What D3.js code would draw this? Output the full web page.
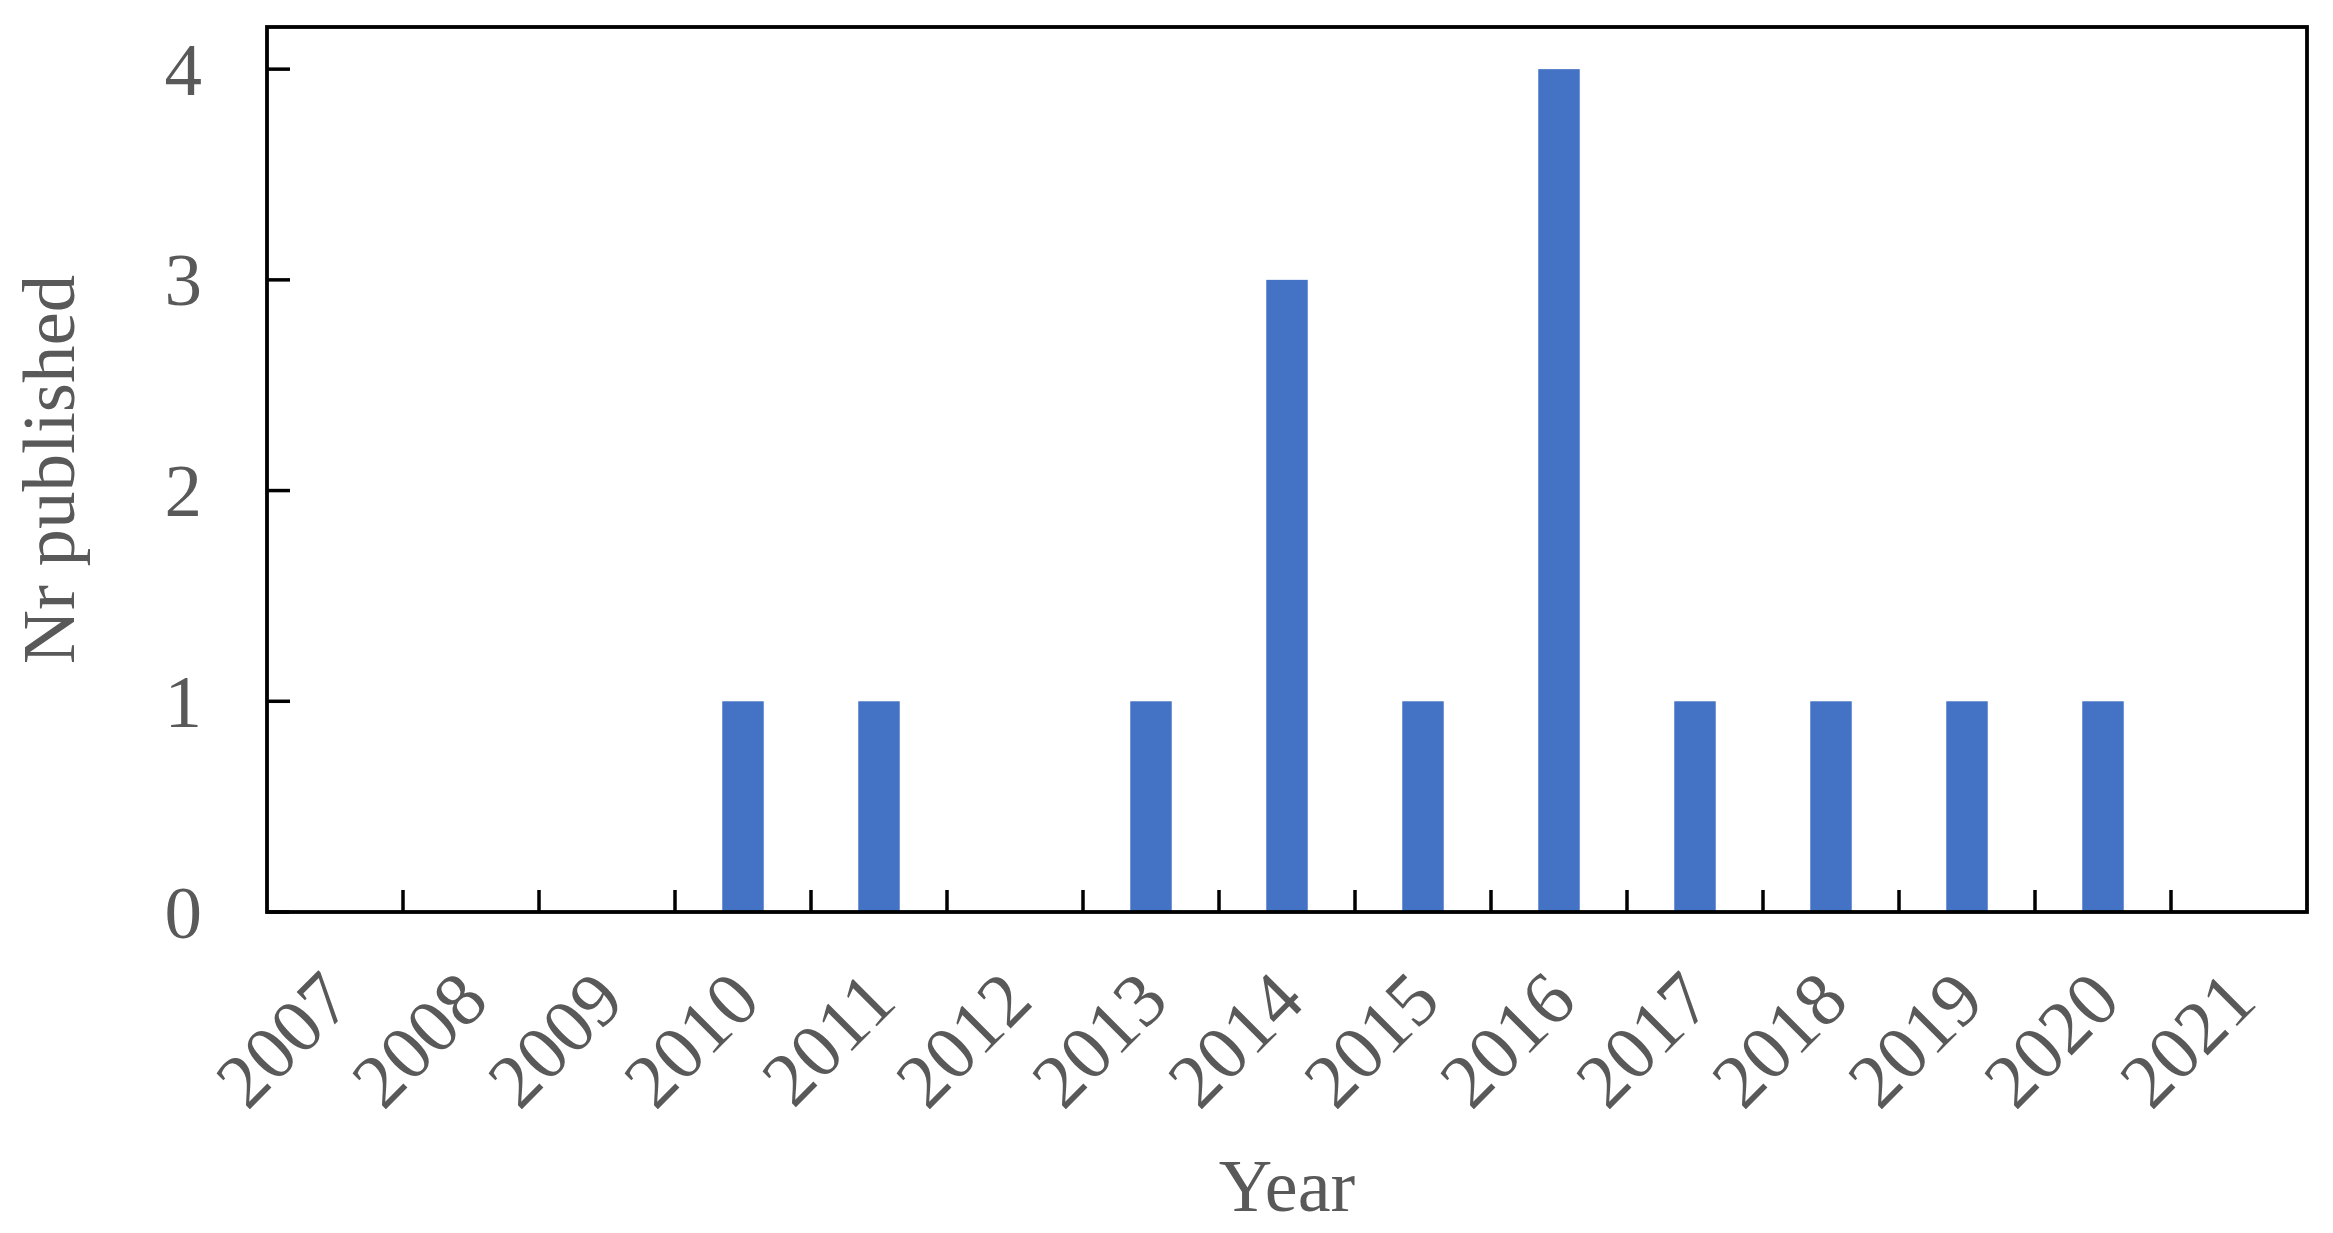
<!DOCTYPE html>
<html>
<head>
<meta charset="utf-8">
<script src="https://cdn.jsdelivr.net/npm/d3@7"></script>
<style>
  html, body { margin: 0; padding: 0; background: #fff; }
  svg { display: block; }
  text { font-family: "Liberation Serif", "Times New Roman", serif; fill: #595959; }
</style>
</head>
<body>
<svg id="chart" width="2333" height="1233"></svg>
<script>
const years = ["2007","2008","2009","2010","2011","2012","2013","2014","2015","2016","2017","2018","2019","2020","2021"];
const published = [0,0,0,1,1,0,1,3,1,4,1,1,1,1,0];
const yTicks = [0,1,2,3,4];
const xTitle = "Year";
const yTitle = "Nr published";

const svg = d3.select("#chart");
const W = 2333, H = 1233;
const m = {left: 267, right: W - 2307, top: 27, bottom: H - 912};
const iw = W - m.left - m.right, ih = H - m.top - m.bottom;

const g = svg.append("g").attr("transform", `translate(${m.left},${m.top})`);

const x = d3.scaleBand().domain(years).range([0, iw]).padding(0);
const y = d3.scaleLinear().domain([0, 4.2]).range([ih, 0]);

const barW = x.bandwidth() * 0.305;

// bars
g.selectAll("rect.bar")
  .data(years.map((yr, i) => ({yr, v: published[i]})))
  .enter().append("rect")
  .attr("class", "bar")
  .attr("x", d => x(d.yr) + x.bandwidth() / 2 - barW / 2)
  .attr("width", barW)
  .attr("y", d => y(d.v))
  .attr("height", d => ih - y(d.v))
  .attr("fill", "#4472C4");

// x ticks (inward) at category boundaries
g.selectAll("line.xtick")
  .data(years.slice(1))
  .enter().append("line")
  .attr("x1", d => x(d)).attr("x2", d => x(d))
  .attr("y1", ih).attr("y2", ih - 22)
  .attr("stroke", "#000").attr("stroke-width", 3.5);

// y ticks (inward)
g.selectAll("line.ytick")
  .data(yTicks)
  .enter().append("line")
  .attr("x1", 0).attr("x2", 23)
  .attr("y1", d => y(d)).attr("y2", d => y(d))
  .attr("stroke", "#000").attr("stroke-width", 3.5);

// frame
g.append("rect")
  .attr("x", 0).attr("y", 0).attr("width", iw).attr("height", ih)
  .attr("fill", "none").attr("stroke", "#000").attr("stroke-width", 3.8);

// y tick labels
g.selectAll("text.ylab")
  .data(yTicks)
  .enter().append("text")
  .attr("x", -65)
  .attr("y", d => y(d))
  .attr("dy", "0.34em")
  .attr("text-anchor", "end")
  .attr("font-size", 75)
  .text(d => d);

// x tick labels rotated
g.selectAll("text.xlab")
  .data(years)
  .enter().append("text")
  .attr("text-anchor", "end")
  .attr("font-size", 76)
  .attr("transform", d => `translate(${x(d) + x.bandwidth() / 2 + 20},${ih + 92}) rotate(-45)`)
  .text(d => d);

// axis titles
svg.append("text")
  .attr("x", m.left + iw / 2)
  .attr("y", 1211)
  .attr("text-anchor", "middle")
  .attr("font-size", 74)
  .text(xTitle);

svg.append("text")
  .attr("transform", `translate(74,${m.top + ih / 2}) rotate(-90)`)
  .attr("text-anchor", "middle")
  .attr("font-size", 75)
  .text(yTitle);
</script>
</body>
</html>
